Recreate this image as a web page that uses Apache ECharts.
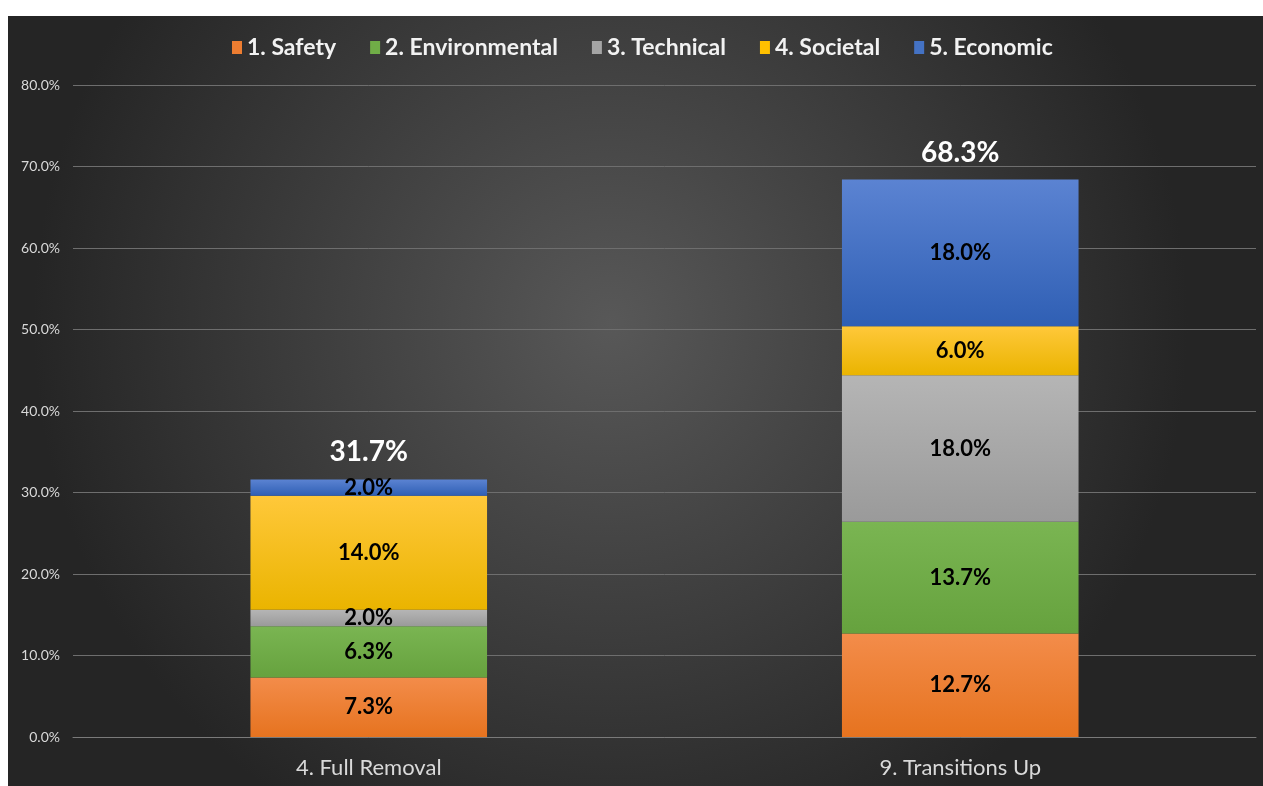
<!DOCTYPE html>
<html style="height: 100%">
<head>
    <meta charset="utf-8">
    <script src="https://cdn.jsdelivr.net/npm/echarts@6/dist/echarts.min.js"></script>
</head>
<body style="height: 100%; margin: 0; background: #fff">
<div id="container" style="width: 1263px; height: 786px"></div>

<script type="text/javascript">
    // data
    var categories = ['4. Full Removal', '9. Transitions Up'];
    var seriesNames = ['1. Safety', '2. Environmental', '3. Technical', '4. Societal', '5. Economic'];
    var safety = [7.3, 12.7];
    var environmental = [6.3, 13.7];
    var technical = [2.0, 18.0];
    var societal = [14.0, 6.0];
    var economic = [2.0, 18.0];
    var totals = [31.7, 68.3];
    var yTicks = [0, 10, 20, 30, 40, 50, 60, 70, 80];

    var values = [safety, environmental, technical, societal, economic];
    // [top, bottom] of each bar's gradient
    var colors = [
        ['#f38c4a', '#e6731f'],
        ['#7ab552', '#66a23e'],
        ['#b5b5b5', '#9a9a9a'],
        ['#ffc83a', '#eab400'],
        ['#5b83d2', '#2f5fb4']
    ];
    var legendColors = ['#ed7d31', '#70ad47', '#a5a5a5', '#ffc000', '#4472c4'];
    var font = 'Lato, "Open Sans", sans-serif';

    var dom = document.getElementById("container");
    var myChart = echarts.init(dom);

    var series = seriesNames.map(function (name, i) {
        return {
            name: name,
            type: 'bar',
            stack: 'all',
            barWidth: '40%',
            data: values[i],
            itemStyle: {
                color: new echarts.graphic.LinearGradient(0, 0, 0, 1, [
                    {offset: 0, color: colors[i][0]},
                    {offset: 1, color: colors[i][1]}
                ])
            },
            label: {
                show: true,
                position: 'inside',
                color: '#000',
                fontFamily: font,
                fontWeight: 'bold',
                fontSize: 22,
                formatter: function (p) { return p.value.toFixed(1) + '%'; }
            }
        };
    });
    // totals shown above each stack
    series.push({
        name: 'Total',
        type: 'bar',
        stack: 'all',
        barWidth: '40%',
        data: totals.map(function () { return 0; }),
        itemStyle: {color: 'transparent'},
        label: {
            show: true,
            position: 'top',
            distance: 13,
            color: '#fff',
            fontFamily: font,
            fontWeight: 'bold',
            fontSize: 28,
            formatter: function (p) { return totals[p.dataIndex].toFixed(1) + '%'; }
        }
    });

    var option = {
        backgroundColor: '#fff',
        animation: false,
        graphic: [{
            type: 'rect',
            z: -10,
            silent: true,
            shape: {x: 8, y: 16, width: 1255, height: 770},
            style: {
                fill: new echarts.graphic.RadialGradient(0.48, 0.4, 0.75, [
                    {offset: 0, color: '#585858'},
                    {offset: 1, color: '#252525'}
                ])
            }
        }],
        legend: {
            data: seriesNames.map(function (n, i) {
                return {name: n, itemStyle: {color: legendColors[i]}};
            }),
            top: 31,
            left: 227,
            itemWidth: 10,
            itemHeight: 13,
            itemGap: 34,
            icon: 'rect',
            textStyle: {color: '#f2f2f2', fontFamily: font, fontWeight: 'bold', fontSize: 23}
        },
        grid: {left: 73, right: 7, top: 85, bottom: 49},
        xAxis: {
            type: 'category',
            data: categories,
            axisLine: {lineStyle: {color: '#7a7a7a'}},
            axisTick: {show: false},
            axisLabel: {color: '#d9d9d9', fontFamily: font, fontSize: 22, margin: 20}
        },
        yAxis: {
            type: 'value',
            min: yTicks[0],
            max: yTicks[yTicks.length - 1],
            interval: 10,
            axisLine: {show: false},
            axisTick: {show: false},
            splitLine: {lineStyle: {color: '#6e6e6e'}},
            axisLabel: {
                color: '#d9d9d9', fontFamily: font, fontSize: 14, margin: 13,
                formatter: function (v) { return v.toFixed(1) + '%'; }
            }
        },
        series: series
    };
    myChart.setOption(option);
</script>
</body>
</html>
